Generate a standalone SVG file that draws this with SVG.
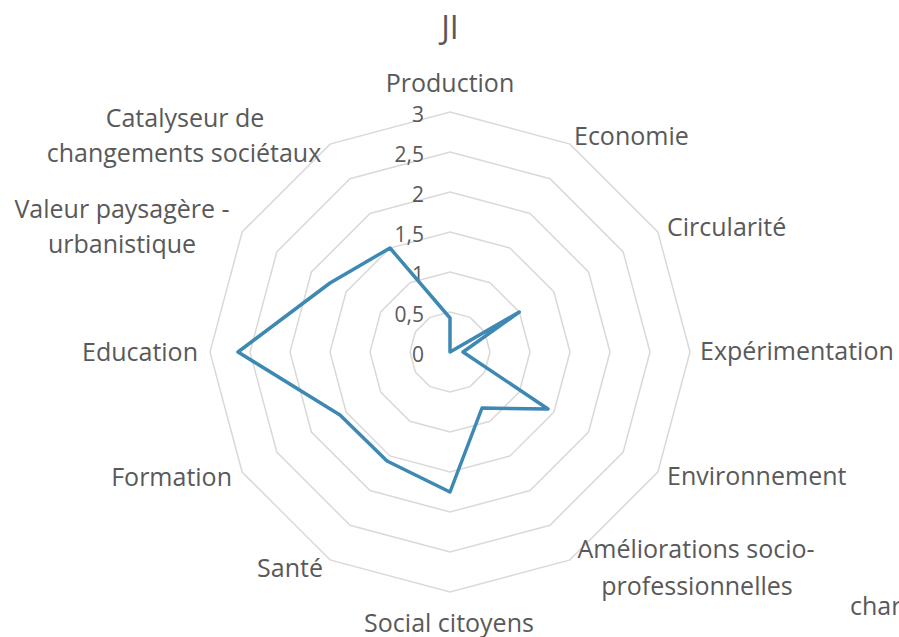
<svg xmlns="http://www.w3.org/2000/svg" width="899" height="637" viewBox="0 0 899 637">
<style>
.grid{fill:none;stroke:#d9d9d9;stroke-width:1.5}
.lbl{font-family:"Open Sans","Liberation Sans",sans-serif;font-size:25px;fill:#595959}
.tick{font-family:"Open Sans","Liberation Sans",sans-serif;font-size:21px;fill:#595959;text-anchor:end}
.ttl{font-family:"Open Sans","Liberation Sans",sans-serif;font-size:32px;fill:#595959;text-anchor:middle}
.mid{text-anchor:middle}
.end{text-anchor:end}
.data{fill:none;stroke:#3e88b4;stroke-width:3.5;stroke-linejoin:round}
</style>
<rect width="899" height="637" fill="#ffffff"/>
<g id="grid">
<polygon class="grid" points="450,312 470,317.36 484.64,332 490,352 484.64,372 470,386.64 450,392 430,386.64 415.36,372 410,352 415.36,332 430,317.36"/>
<polygon class="grid" points="450,272 490,282.72 519.28,312 530,352 519.28,392 490,421.28 450,432 410,421.28 380.72,392 370,352 380.72,312 410,282.72"/>
<polygon class="grid" points="450,232 510,248.08 553.92,292 570,352 553.92,412 510,455.92 450,472 390,455.92 346.08,412 330,352 346.08,292 390,248.08"/>
<polygon class="grid" points="450,192 530,213.44 588.56,272 610,352 588.56,432 530,490.56 450,512 370,490.56 311.44,432 290,352 311.44,272 370,213.44"/>
<polygon class="grid" points="450,152 550,178.79 623.21,252 650,352 623.21,452 550,525.21 450,552 350,525.21 276.79,452 250,352 276.79,252 350,178.79"/>
<polygon class="grid" points="450,112 570,144.15 657.85,232 690,352 657.85,472 570,559.85 450,592 330,559.85 242.15,472 210,352 242.15,232 330,144.15"/>
</g>
<g id="ticks">
<text class="tick" x="424" y="122">3</text>
<text class="tick" x="424" y="162">2,5</text>
<text class="tick" x="424" y="202">2</text>
<text class="tick" x="424" y="242">1,5</text>
<text class="tick" x="424" y="282">1</text>
<text class="tick" x="424" y="322">0,5</text>
<text class="tick" x="424" y="362">0</text>
</g>
<g id="series">
<polygon class="data" points="450,318 450,352 519.3,312 463,352 548,409 482,408 450,492 387,461 340,415 238,352 330,283 390,248"/>
</g>
<text id="title" class="ttl" x="450" y="39">JI</text>
<g id="labels">
<text class="lbl mid" x="450" y="92">Production</text>
<text class="lbl" x="574" y="145">Economie</text>
<text class="lbl" x="667" y="236">Circularité</text>
<text class="lbl" x="700" y="360">Expérimentation</text>
<text class="lbl" x="667" y="485">Environnement</text>
<text class="lbl mid" x="696" y="558">Améliorations socio-</text>
<text class="lbl mid" x="697" y="595">professionnelles</text>
<text class="lbl" x="850" y="615">char</text>
<text class="lbl mid" x="449" y="632">Social citoyens</text>
<text class="lbl end" x="323" y="577">Santé</text>
<text class="lbl end" x="232" y="486">Formation</text>
<text class="lbl end" x="198" y="361">Education</text>
<text class="lbl mid" x="122" y="218">Valeur paysagère -</text>
<text class="lbl mid" x="122" y="253">urbanistique</text>
<text class="lbl mid" x="185" y="127">Catalyseur de</text>
<text class="lbl mid" x="184" y="162">changements sociétaux</text>
</g>
</svg>
